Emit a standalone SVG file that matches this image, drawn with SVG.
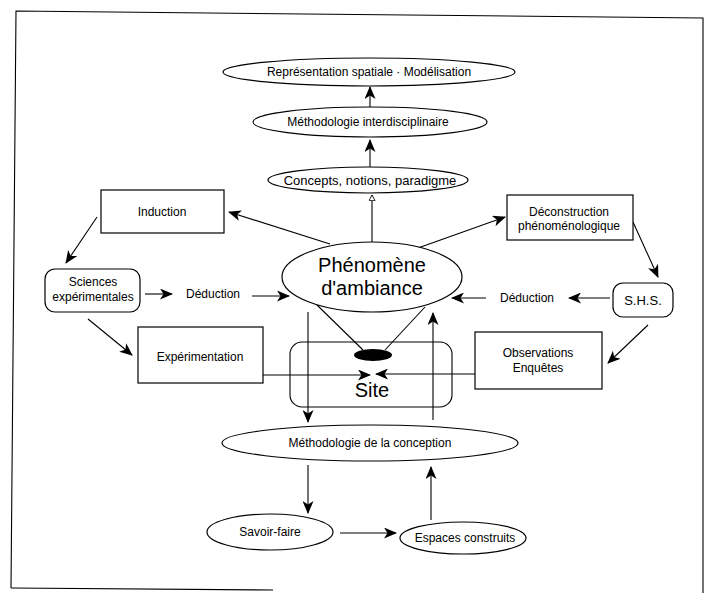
<svg xmlns="http://www.w3.org/2000/svg" width="707" height="593" viewBox="0 0 707 593">
<style>
  .n { fill: #fff; stroke: #000; stroke-width: 1.2; }
  .c { fill: none; stroke: #000; stroke-width: 1.1; }
  .a { marker-end: url(#arr); }
  text { font-family: "Liberation Sans", Arial, sans-serif; font-size: 12px; fill: #000; text-anchor: middle; }
  .big { font-size: 20px; }
</style>
<defs>
  <marker id="arr" viewBox="0 0 13 11" refX="12" refY="5.5" markerWidth="13" markerHeight="11" markerUnits="userSpaceOnUse" orient="auto">
    <path d="M0,0 L13,5.5 L0,11 L3.5,5.5 z" fill="#000"/>
  </marker>
  <marker id="sm" viewBox="0 0 8 8" refX="7" refY="4" markerWidth="7" markerHeight="7" markerUnits="userSpaceOnUse" orient="auto">
    <path d="M0.5,0.5 L7,4 L0.5,7.5 z" fill="#fff" stroke="#000" stroke-width="1"/>
  </marker>
</defs>
<rect width="707" height="593" fill="#fff"/>
<g id="frame">
  <path class="c" d="M11,588 L16,11 L703,18 L703,593"/>
  <path class="c" d="M11,588 L273,590"/>
</g>
<g id="connectors">
  <line class="c a" x1="370" y1="107" x2="370" y2="87"/>
  <line class="c a" x1="370" y1="167" x2="370" y2="140"/>
  <line class="c" x1="372" y1="242" x2="372" y2="195" marker-end="url(#sm)"/>
  <line class="c a" x1="330" y1="244" x2="229" y2="212"/>
  <line class="c a" x1="418" y1="248" x2="505" y2="217"/>
  <line class="c a" x1="97" y1="217" x2="66" y2="263"/>
  <line class="c a" x1="633" y1="222" x2="658" y2="277"/>
  <line class="c a" x1="145" y1="294" x2="172" y2="294"/>
  <line class="c a" x1="252" y1="296" x2="289" y2="296"/>
  <line class="c a" x1="610" y1="298" x2="569" y2="298"/>
  <line class="c a" x1="486" y1="298" x2="452" y2="298"/>
  <line class="c a" x1="88" y1="319" x2="132" y2="355"/>
  <line class="c a" x1="648" y1="325" x2="608" y2="363"/>
  <line class="c" x1="317" y1="305" x2="363" y2="350"/>
  <line class="c" x1="425" y1="307" x2="385" y2="350"/>
  <line class="c a" x1="263" y1="375" x2="370" y2="375"/>
  <line class="c a" x1="475" y1="374" x2="376" y2="374"/>
  <line class="c a" x1="308" y1="312" x2="308" y2="422"/>
  <line class="c a" x1="433" y1="420" x2="433" y2="313"/>
  <line class="c a" x1="308" y1="465" x2="308" y2="513"/>
  <line class="c a" x1="340" y1="533" x2="396" y2="533"/>
  <line class="c a" x1="431" y1="520" x2="431" y2="467"/>
</g>
<g id="n-representation">
  <ellipse class="n" cx="369" cy="72" rx="146" ry="14"/>
  <text x="369" y="76">Représentation spatiale · Modélisation</text>
</g>
<g id="n-methodo-inter">
  <ellipse class="n" cx="370" cy="122" rx="117" ry="15"/>
  <text x="368" y="126">Méthodologie interdisciplinaire</text>
</g>
<g id="n-concepts">
  <ellipse class="n" cx="368" cy="180" rx="100" ry="13"/>
  <text x="370" y="185" style="font-size:13px">Concepts, notions, paradigme</text>
</g>
<g id="n-induction">
  <rect class="n" x="101" y="190" width="123" height="43"/>
  <text x="162" y="216">Induction</text>
</g>
<g id="n-deconstruction">
  <rect class="n" x="507" y="195" width="126" height="45"/>
  <text x="569" y="216">Déconstruction</text>
  <text x="569" y="230">phénoménologique</text>
</g>
<g id="n-sciences">
  <rect class="n" x="45" y="269" width="95" height="43" rx="10"/>
  <text x="93" y="286">Sciences</text>
  <text x="93" y="301">expérimentales</text>
</g>
<g id="n-deduction-l">
  <text x="213" y="298">Déduction</text>
</g>
<g id="n-deduction-r">
  <text x="527" y="302">Déduction</text>
</g>
<g id="n-shs">
  <rect class="n" x="613" y="283" width="60" height="34" rx="10"/>
  <text x="643" y="305" style="font-size:13px">S.H.S.</text>
</g>
<g id="n-experimentation">
  <rect class="n" x="138" y="327" width="125" height="56"/>
  <text x="200" y="361">Expérimentation</text>
</g>
<g id="n-observations">
  <rect class="n" x="475" y="332" width="127" height="57"/>
  <text x="538" y="357">Observations</text>
  <text x="538" y="372">Enquêtes</text>
</g>
<g id="n-phenomene">
  <ellipse class="n" cx="372" cy="277" rx="90" ry="35"/>
  <text class="big" x="372" y="272">Phénomène</text>
  <text class="big" x="372" y="295">d'ambiance</text>
</g>
<g id="n-site">
  <rect class="c" x="290" y="342" width="162" height="65" rx="12"/>
  <ellipse cx="373" cy="355" rx="19" ry="6" fill="#000"/>
  <text class="big" x="372" y="397">Site</text>
</g>
<g id="n-methodo-conception">
  <ellipse class="n" cx="370" cy="443" rx="148" ry="18"/>
  <text x="370" y="447">Méthodologie de la conception</text>
</g>
<g id="n-savoir">
  <ellipse class="n" cx="270" cy="532" rx="63" ry="18"/>
  <text x="270" y="536">Savoir-faire</text>
</g>
<g id="n-espaces">
  <ellipse class="n" cx="463" cy="538" rx="63" ry="16"/>
  <text x="465" y="542">Espaces construits</text>
</g>
</svg>
